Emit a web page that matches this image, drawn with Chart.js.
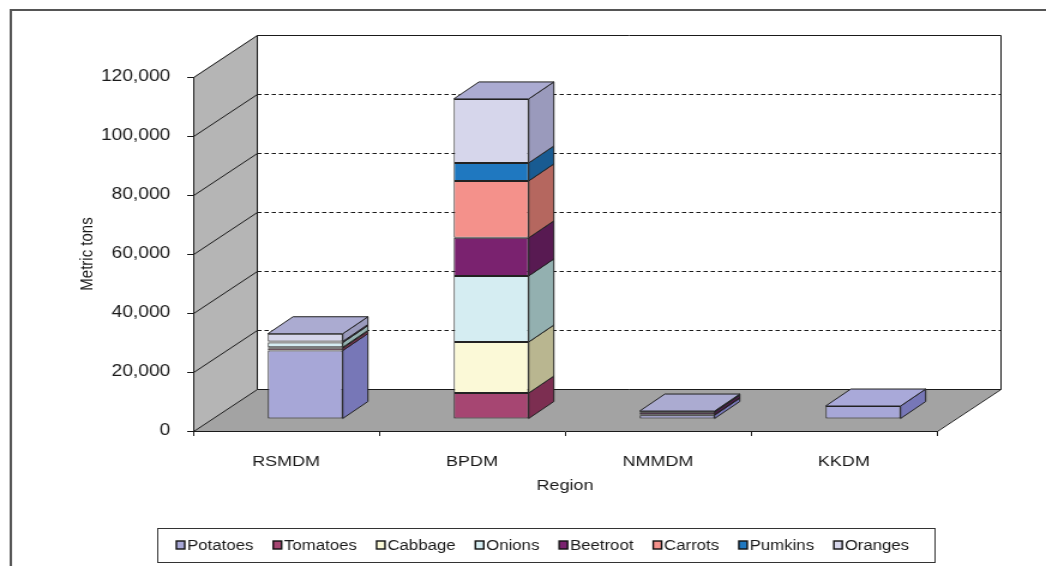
<!DOCTYPE html>
<html>
<head>
<meta charset="utf-8" />
<title>Vegetable production by region</title>
<style>
    html, body { margin: 0; padding: 0; background: #fff; }
    /* the reference is stretched sideways, so the canvas is drawn narrow and widened by css */
    #cropChart { display: block; width: 1046px; height: 566px; }
</style>
</head>
<body>
<canvas id="cropChart" width="872" height="566" style="width:1046px;height:566px"></canvas>

<script src="https://cdn.jsdelivr.net/npm/chart.js"></script>
<script>
// values (metric tons)
const regions  = ['RSMDM', 'BPDM', 'NMMDM', 'KKDM'];
const potatoes = [23200, 0, 1300, 4400];
const tomatoes = [800, 8800, 200, 0];
const cabbage  = [300, 17300, 0, 0];
const onions   = [1600, 22400, 0, 0];
const beetroot = [400, 12900, 800, 0];
const carrots  = [0, 19300, 0, 0];
const pumkins  = [0, 6100, 300, 0];
const oranges  = [2600, 21700, 100, 0];
const yTicks   = [0, 20000, 40000, 60000, 80000, 100000, 120000];

// 3d look (canvas units)
const DEPTH = { x: 53, y: -42 };      // walls / floor
const BAR_SHIFT = { x: 16, y: -12 };  // bars stand a bit behind the front edge
const BAR_DEPTH = { x: 21, y: -17 };
const INK = '#1a1a1a';
const FONT = '"Liberation Sans", Arial, sans-serif';

const crops = [
    { label: 'Potatoes', data: potatoes, front: '#a7a7d7', side: '#7777b7', top: '#a9a9d9' },
    { label: 'Tomatoes', data: tomatoes, front: '#a64672', side: '#7c2e51', top: '#8e3a60' },
    { label: 'Cabbage',  data: cabbage,  front: '#fbf9d7', side: '#b9b690', top: '#d8d6b4' },
    { label: 'Onions',   data: onions,   front: '#d5edf2', side: '#93b0b0', top: '#b4cccf' },
    { label: 'Beetroot', data: beetroot, front: '#7a226f', side: '#581a52', top: '#681d5f' },
    { label: 'Carrots',  data: carrots,  front: '#f4918b', side: '#b5675f', top: '#d27a74' },
    { label: 'Pumkins',  data: pumkins,  front: '#1f78c0', side: '#185b92', top: '#1b68a8' },
    { label: 'Oranges',  data: oranges,  front: '#d6d6eb', side: '#9a9abc', top: '#ababd1' }
];

function poly(ctx, pts, fill, stroke) {
    ctx.beginPath();
    pts.forEach(([x, y], k) => k ? ctx.lineTo(x, y) : ctx.moveTo(x, y));
    ctx.closePath();
    if (fill) { ctx.fillStyle = fill; ctx.fill(); }
    if (stroke) { ctx.strokeStyle = stroke; ctx.lineWidth = 1; ctx.stroke(); }
}

function line(ctx, x1, y1, x2, y2) {
    ctx.beginPath();
    ctx.moveTo(x1, y1);
    ctx.lineTo(x2, y2);
    ctx.stroke();
}

const box3d = {
    id: 'box3d',
    beforeDraw(chart) {
        const { ctx, chartArea: a, scales: { y } } = chart;
        const top = y.getPixelForValue(yTicks[yTicks.length - 1]);
        const bot = y.getPixelForValue(0);
        const L = a.left + 0.5, R = a.right + 0.5;
        ctx.save();
        ctx.fillStyle = '#fff';
        ctx.fillRect(0, 0, chart.width, chart.height);

        // outer frame (cut by the picture on the right and bottom)
        ctx.strokeStyle = '#555';
        ctx.lineWidth = 2;
        ctx.beginPath();
        ctx.moveTo(9, chart.height);
        ctx.lineTo(9, 10);
        ctx.lineTo(chart.width, 10);
        ctx.stroke();

        // walls and floor
        poly(ctx, [[L, top], [L + DEPTH.x, top + DEPTH.y], [L + DEPTH.x, bot + DEPTH.y], [L, bot]], '#b5b5b5');
        poly(ctx, [[L, bot], [L + DEPTH.x, bot + DEPTH.y], [R + DEPTH.x, bot + DEPTH.y], [R, bot]], '#a3a3a3');

        ctx.strokeStyle = INK;
        ctx.lineWidth = 1;
        yTicks.forEach(v => {
            const py = Math.round(y.getPixelForValue(v)) + 0.5;
            line(ctx, L, py, L + DEPTH.x, py + DEPTH.y);
            if (v > 0 && v < yTicks[yTicks.length - 1]) {
                ctx.setLineDash([3.5, 2.5]);
                line(ctx, L + DEPTH.x, py + DEPTH.y, R + DEPTH.x, py + DEPTH.y);
                ctx.setLineDash([]);
            }
        });
        const bt = Math.round(top) + 0.5 + DEPTH.y, bb = Math.round(bot) + 0.5 + DEPTH.y;
        line(ctx, L + DEPTH.x, bt, R + DEPTH.x, bt);
        line(ctx, L + DEPTH.x, bt, L + DEPTH.x, bb);
        line(ctx, R + DEPTH.x, bt, R + DEPTH.x, bb);
        line(ctx, L + DEPTH.x, bb, R + DEPTH.x, bb);
        line(ctx, R, Math.round(bot) + 0.5, R + DEPTH.x, bb);
        ctx.restore();
    },
    beforeDatasetsDraw(chart) {
        chart.ctx.save();
        chart.ctx.translate(BAR_SHIFT.x, BAR_SHIFT.y);
    },
    afterDatasetsDraw(chart) {
        const ctx = chart.ctx;
        chart.data.labels.forEach((lab, i) => {
            let cap = null;
            chart.data.datasets.forEach((ds, di) => {
                if (ds.data[i] == null) return;
                const bar = chart.getDatasetMeta(di).data[i];
                const { x, y, base, width } = bar.getProps(['x', 'y', 'base', 'width'], true);
                const l = x - width / 2, r = x + width / 2;
                const t = Math.min(y, base), b = Math.max(y, base);
                poly(ctx, [[r, b], [r, t], [r + BAR_DEPTH.x, t + BAR_DEPTH.y], [r + BAR_DEPTH.x, b + BAR_DEPTH.y]],
                    crops[di].side, '#222');
                if (!cap || t < cap.t) cap = { t, l, r, color: crops[di].top };
            });
            if (cap) {
                poly(ctx, [[cap.l, cap.t], [cap.l + BAR_DEPTH.x, cap.t + BAR_DEPTH.y],
                    [cap.r + BAR_DEPTH.x, cap.t + BAR_DEPTH.y], [cap.r, cap.t]], cap.color, '#222');
            }
        });
        ctx.restore();
    },
    afterDraw(chart) {
        // legend in a framed box under the axis title
        const ctx = chart.ctx;
        ctx.save();
        ctx.font = '14px ' + FONT;
        ctx.textBaseline = 'middle';
        const boxL = 131, boxR = 779, boxT = 528, boxH = 34, gap = 16.5;
        const cy = boxT + boxH / 2;
        let x = 147;
        chart.data.datasets.forEach((ds, di) => {
            ctx.fillStyle = crops[di].front;
            ctx.fillRect(x, cy - 4, 7, 8);
            ctx.strokeStyle = '#111';
            ctx.lineWidth = 1.4;
            ctx.strokeRect(x, cy - 4, 7, 8);
            ctx.fillStyle = INK;
            ctx.fillText(ds.label, x + 9, cy + 1);
            x += 9 + ctx.measureText(ds.label).width + gap;
        });
        ctx.strokeStyle = '#333';
        ctx.lineWidth = 1;
        ctx.strokeRect(boxL + 0.5, boxT + 0.5, boxR - boxL, boxH);
        ctx.restore();
    }
};

Chart.defaults.font.family = FONT;
Chart.defaults.color = INK;

new Chart(document.getElementById('cropChart'), {
    type: 'bar',
    data: {
        labels: regions,
        datasets: crops.map(c => ({
            label: c.label,
            data: c.data.map(v => v || null),
            backgroundColor: c.front,
            borderColor: '#222',
            borderWidth: 1,
            borderSkipped: false,
            barPercentage: 0.403,
            categoryPercentage: 1
        }))
    },
    options: {
        responsive: false,
        animation: false,
        devicePixelRatio: 1,
        layout: { padding: { top: 77, right: 91, bottom: 35, left: 0 } },
        plugins: {
            legend: { display: false },
            tooltip: { enabled: false }
        },
        scales: {
            x: {
                stacked: true,
                grid: { drawOnChartArea: false, tickLength: 5, color: INK },
                border: { color: INK },
                ticks: { font: { size: 15 }, padding: 17 },
                title: { display: true, text: 'Region', font: { size: 15 }, padding: { top: 0, bottom: 36 } },
                afterFit: s => { s.height = 100; }
            },
            y: {
                stacked: true,
                min: 0,
                max: yTicks[yTicks.length - 1],
                afterBuildTicks: s => { s.ticks = yTicks.map(v => ({ value: v })); },
                grid: { drawOnChartArea: false, tickLength: 5, color: INK },
                border: { color: INK },
                ticks: { font: { size: 16 }, padding: 14, callback: v => v.toLocaleString('en-US') },
                title: { display: true, text: 'Metric tons', font: { size: 15 }, padding: { top: 64, bottom: 0 } },
                afterFit: s => { s.width = 161; }
            }
        }
    },
    plugins: [box3d]
});
</script>
</body>
</html>
